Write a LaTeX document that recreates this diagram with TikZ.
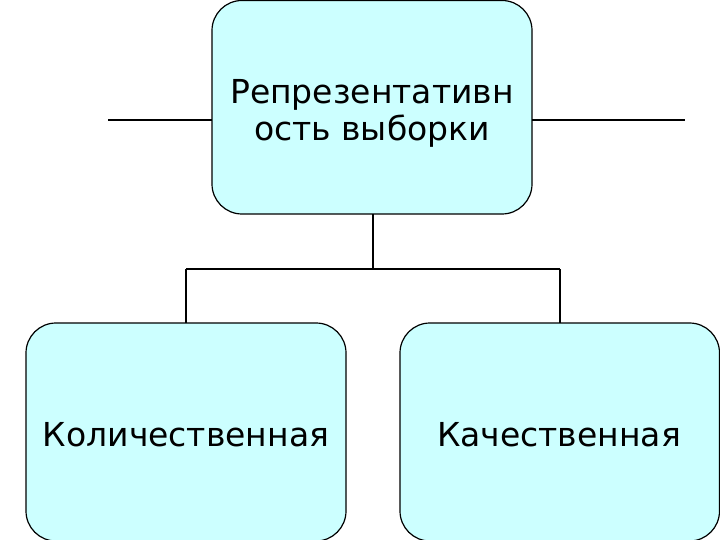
\documentclass[tikz,border=0pt]{standalone}
\usepackage{fontspec}
\setmainfont{DejaVu Sans}
\definecolor{boxfill}{HTML}{CCFFFF}
\tikzset{
  box/.style={draw=black, line width=1.2bp, fill=boxfill, rounded corners=30bp},
  conn/.style={draw=black, line width=2bp},
  side/.style={draw=black, line width=1.3bp},
  lbl/.style={font=\fontsize{33bp}{37bp}\selectfont, align=center, inner sep=0pt}
}
\begin{document}
\begin{tikzpicture}[x=1bp,y=-1bp]
\useasboundingbox (0,0) rectangle (720,540);
\draw[box] (212,0.5) rectangle (532,214);
\draw[box] (26,323) rectangle (346,541);
\draw[box] (400,323) rectangle (719.5,541);
\coordinate (tl) at (212,120);
\coordinate (tr) at (532,120);
\coordinate (ll) at (108,120);
\coordinate (rr) at (685,120);
\draw[side] (ll) -- (tl);
\draw[side] (tr) -- (rr);
\coordinate (tb) at (373,214);
\coordinate (j) at (373,269);
\coordinate (jl) at (186,269);
\coordinate (jr) at (560,269);
\coordinate (bl) at (186,323);
\coordinate (br) at (560,323);
\draw[conn] (tb) -- (j);
\draw[conn] (jl) -- (jr);
\draw[conn] (jl) -- (bl);
\draw[conn] (jr) -- (br);
\node[lbl] (t) at (372,113) {Репрезентативн\\ость выборки};
\node[lbl, anchor=base] (q1) at (186,446) {Количественная};
\node[lbl, anchor=base] (q2) at (559,446) {Качественная};
\end{tikzpicture}
\end{document}
